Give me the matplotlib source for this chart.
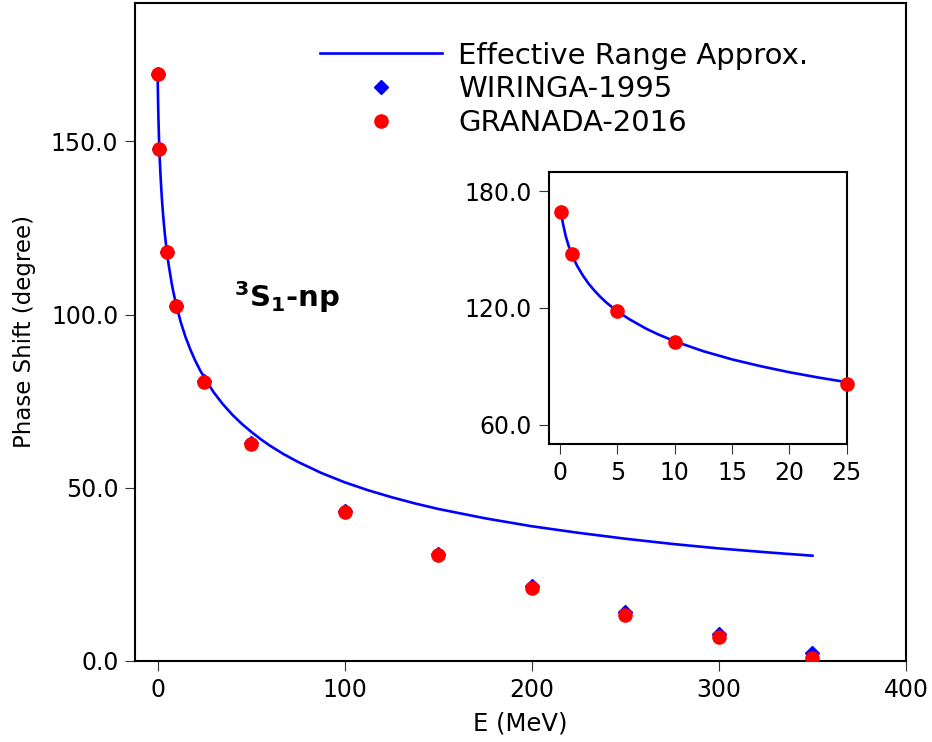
import numpy as np
import matplotlib
matplotlib.use('Agg')
import matplotlib.pyplot as plt
from matplotlib.ticker import FormatStrFormatter

# Energies (MeV) and phase shifts (degree) for 3S1 np
E_data = [0.1, 1, 5, 10, 25, 50, 100, 150, 200, 250, 300, 350]
wiringa_1995 = [169.6, 147.8, 118.2, 102.6, 80.7, 62.9, 43.4, 31.0, 21.7, 14.1, 7.7, 2.4]
granada_2016 = [169.5, 147.8, 118.2, 102.6, 80.6, 62.7, 43.1, 30.6, 21.1, 13.3, 6.8, 0.9]

# Effective range approximation curve
E_era = [0.1, 0.2, 0.25, 0.5, 0.75, 1, 1.25, 1.5, 2, 2.5, 3, 3.5, 4, 4.5, 5, 6, 7.5, 8.5,
         10, 12.5, 15, 17.5, 20, 22.5, 25, 30, 35, 40, 45, 50, 55, 60, 67.5, 75, 87.5,
         100, 112.5, 125, 137.5, 150, 175, 200, 225, 250, 275, 300, 325, 350]
delta_era = [169.3, 164.9, 163.2, 156.6, 151.7, 147.7, 144.4, 141.4, 136.5, 132.3, 128.8,
             125.7, 122.9, 120.5, 118.2, 114.3, 109.3, 106.5, 102.8, 97.7, 93.5, 90.0,
             86.9, 84.2, 81.8, 77.6, 74.1, 71.1, 68.5, 66.2, 64.1, 62.2, 59.7, 57.5, 54.3,
             51.6, 49.3, 47.3, 45.5, 43.9, 41.2, 38.9, 37.0, 35.3, 33.8, 32.5, 31.4, 30.4]

# inset shows the low energy part only
E_inset = [0.1, 1, 5, 10, 25]
granada_inset = [169.5, 147.8, 118.2, 102.6, 80.6]

plt.rcParams['font.family'] = 'DejaVu Sans'

fig = plt.figure(figsize=(9.32, 7.42), dpi=100)
ax = fig.add_axes([0.1449, 0.1092, 0.8272, 0.8868])

ax.plot(E_era, delta_era, color='blue', linewidth=1.9, label='Effective Range Approx.', zorder=2)
ax.plot(E_data, wiringa_1995, linestyle='none', marker='D', markersize=7.5, color='blue',
        label='WIRINGA-1995', zorder=3)
ax.plot(E_data, granada_2016, linestyle='none', marker='o', markersize=9.5, color='red',
        label='GRANADA-2016', zorder=4)

ax.set_xlim(-12, 400)
ax.set_ylim(0, 190)
ax.set_xticks([0, 100, 200, 300, 400])
ax.set_yticks([0, 50, 100, 150])
ax.yaxis.set_major_formatter(FormatStrFormatter('%.1f'))
ax.set_xlabel('E (MeV)', fontsize=17.5, labelpad=7)
ax.set_ylabel('Phase Shift (degree)', fontsize=16.5, labelpad=11)
ax.tick_params(direction='out', length=7, width=0.8, color='#333333', labelsize=17, pad=5)
for s in ax.spines.values():
    s.set_linewidth(1.5)

ax.text(69, 105, r'$\mathbf{^3S_1}$-np', fontsize=21, fontweight='bold', ha='center', va='center')

ax.legend(loc='upper left', bbox_to_anchor=(0.343, 0.944), bbox_transform=fig.transFigure,
          frameon=False, fontsize=21, handlelength=4.2, handletextpad=0.55,
          labelspacing=0.2, borderpad=0, borderaxespad=0)

# inset
axin = fig.add_axes([0.5887, 0.4016, 0.3198, 0.3670])
axin.plot(E_era, delta_era, color='blue', linewidth=1.9, zorder=2)
axin.plot(E_inset, granada_inset, linestyle='none', marker='o', markersize=9.5, color='red',
          zorder=4, clip_on=False)
axin.set_xlim(-1, 25)
axin.set_ylim(50, 190)
axin.set_xticks([0, 5, 10, 15, 20, 25])
axin.set_yticks([60, 120, 180])
axin.yaxis.set_major_formatter(FormatStrFormatter('%.1f'))
axin.tick_params(direction='out', length=7, width=0.8, color='#333333', labelsize=17, pad=5)
for s in axin.spines.values():
    s.set_linewidth(1.5)

plt.savefig('out.png', dpi=100)
